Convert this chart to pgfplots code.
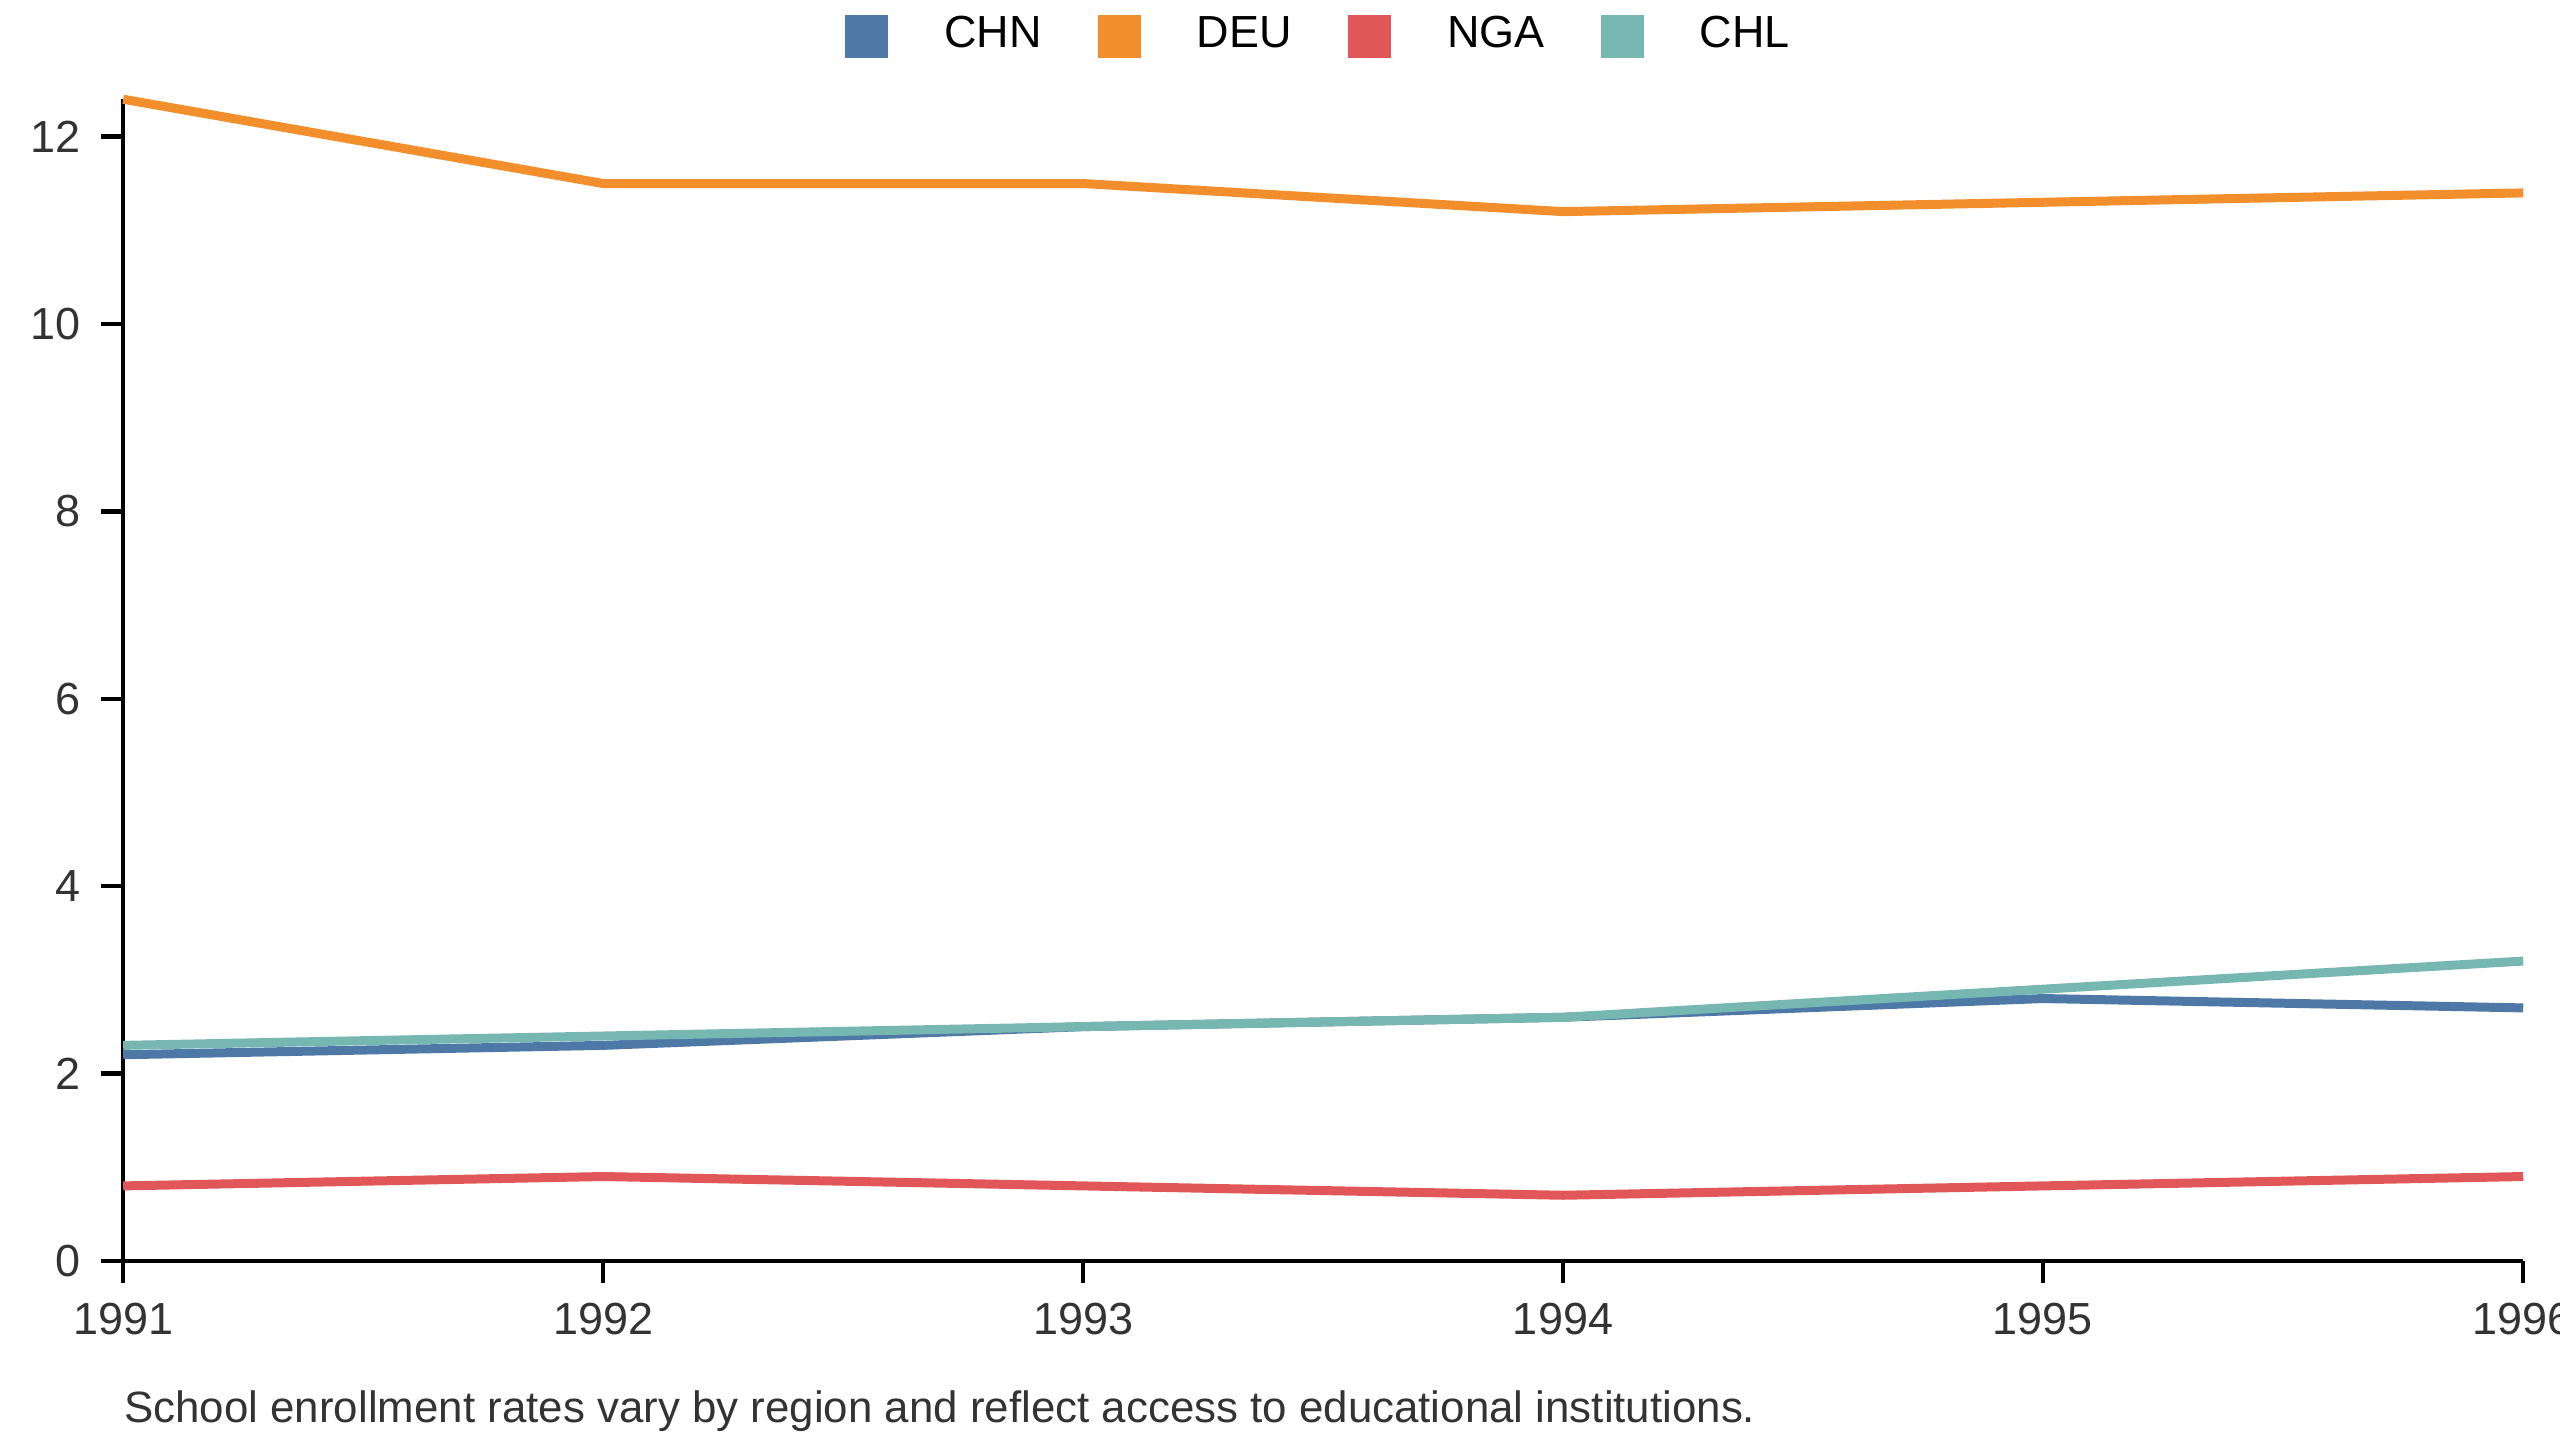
\documentclass[border=0pt]{standalone}
\usepackage{pgfplots}
\pgfplotsset{compat=1.18}
\usepackage{fontspec}
\setmainfont{Liberation Sans}
\definecolor{cchn}{HTML}{4E79A7}
\definecolor{cdeu}{HTML}{F28E2B}
\definecolor{cnga}{HTML}{E15759}
\definecolor{cchl}{HTML}{76B7B2}
\definecolor{txt}{HTML}{333333}
\begin{document}
\begin{tikzpicture}
\useasboundingbox (-0.77,-1.14) rectangle (15.23,7.88);
\begin{axis}[
  scale only axis, width=15.0cm, height=7.26cm,
  xmin=1991, xmax=1996, ymin=0, ymax=12.4,
  axis x line*=bottom, axis y line*=left,
  axis line style={line width=0.8pt, black},
  tick align=outside, tick style={black, line width=0.8pt},
  major tick length=4pt,
  xtick={1991,...,1996}, ytick={0,2,...,12},
  xticklabel style={/pgf/number format/1000 sep={}},
  /pgf/number format/assume math mode=true,
  tick label style={font=\fontsize{8}{9}\selectfont, text=txt},
  clip=false,
  legend style={at={(0.5,1.054)}, anchor=center, draw=none, fill=none, legend columns=-1,
    font=\fontsize{8}{9}\selectfont, column sep=8pt},
  legend image code/.code={\fill[#1] (0pt,-3pt) rectangle (6pt,3pt);},
]
\addplot[cchn, line width=1.6pt] coordinates {(1991,2.2)(1992,2.3)(1993,2.5)(1994,2.6)(1995,2.8)(1996,2.7)};
\addlegendentry{CHN}
\addplot[cdeu, line width=1.6pt] coordinates {(1991,12.4)(1992,11.5)(1993,11.5)(1994,11.2)(1995,11.3)(1996,11.4)};
\addlegendentry{DEU}
\addplot[cnga, line width=1.6pt] coordinates {(1991,0.8)(1992,0.9)(1993,0.8)(1994,0.7)(1995,0.8)(1996,0.9)};
\addlegendentry{NGA}
\addplot[cchl, line width=1.6pt] coordinates {(1991,2.3)(1992,2.4)(1993,2.5)(1994,2.6)(1995,2.9)(1996,3.2)};
\addlegendentry{CHL}
\node[anchor=west, inner sep=0pt, font=\fontsize{7.8}{9}\selectfont, text=txt] at (rel axis cs:0,0) [yshift=-0.94cm] {School enrollment rates vary by region and reflect access to educational institutions.};
\end{axis}
\end{tikzpicture}
\end{document}
